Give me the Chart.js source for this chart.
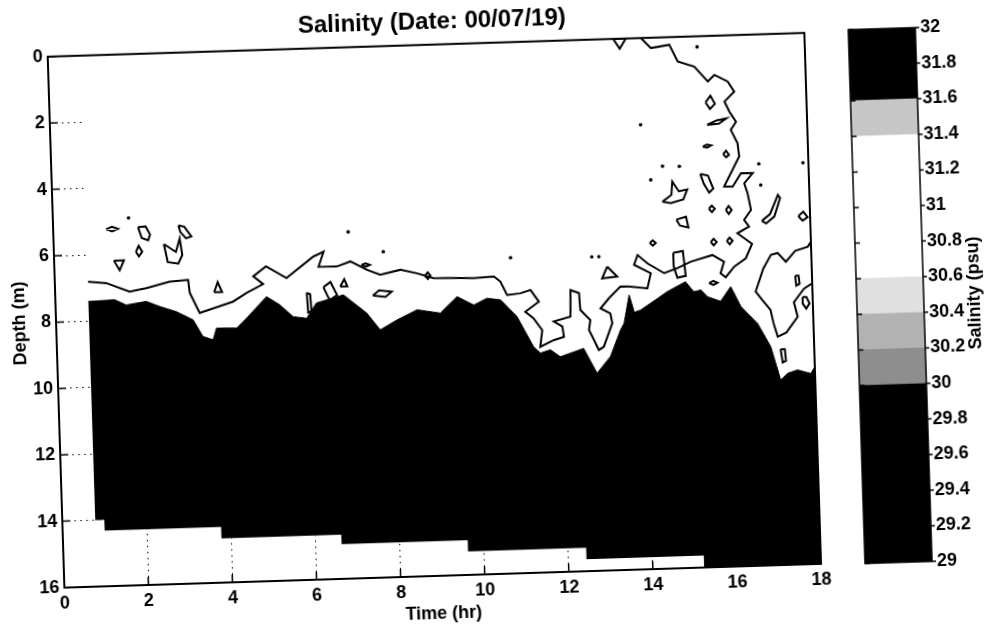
<!DOCTYPE html>
<html>
<head>
<meta charset="utf-8">
<script src="https://cdn.jsdelivr.net/npm/chart.js@4.4.1/dist/chart.umd.min.js"></script>
<style>
  html, body { margin: 0; padding: 0; background: #fff; overflow: hidden; }
  #page { position: relative; width: 988px; height: 627px; transform: rotate(-1.8deg); transform-origin: 494px 313.5px; }
  #salinityChart { position: absolute; left: 0; top: 0; }
  #colorBar { position: absolute; left: 820px; top: 0; }
</style>
</head>
<body>
<div id="page">
  <canvas id="salinityChart" width="882" height="627"></canvas>
  <canvas id="colorBar" width="168" height="627"></canvas>
</div>
<script>
// axis ticks
const timeTicks = [0, 2, 4, 6, 8, 10, 12, 14, 16, 18];
const depthTicks = [0, 2, 4, 6, 8, 10, 12, 14, 16];
const salinityTicks = [29, 29.2, 29.4, 29.6, 29.8, 30, 30.2, 30.4, 30.6, 30.8, 31, 31.2, 31.4, 31.6, 31.8, 32];

// bottom of the data (stepped, hr / m)
const stepStart = [0.78, 1.0, 3.77, 6.62, 9.62, 12.43, 15.22];
const stepDepth = [14.0, 14.32, 14.67, 14.95, 15.29, 15.64, 15.97];
const dataEnd = 18;

// top of the < 30 psu (black) water
const blackTime = [0.78, 1.41, 1.68, 2.16, 2.48, 2.87, 3.26, 3.48, 3.72, 3.81, 4.29, 4.53, 5.02, 5.33, 5.64, 5.96,
  6.2, 6.85, 7.39, 7.70, 8.10, 8.59, 9.14, 9.55, 9.94, 10.26, 10.58, 10.96, 11.33, 11.49, 11.73, 11.96,
  12.52, 12.82, 13.15, 13.41, 13.5, 13.64, 13.75, 13.90, 14.15, 14.55, 14.99, 15.18, 15.35, 15.5, 15.81, 16.06,
  16.29, 16.67, 16.97, 17.18, 17.35, 17.59, 17.9, 18];
const blackDepth = [7.41, 7.38, 7.55, 7.46, 7.63, 7.80, 8.06, 8.57, 8.68, 8.33, 8.35, 8.06, 7.43, 7.69, 8.06, 8.12,
  7.67, 7.45, 8.02, 8.54, 8.26, 7.97, 8.09, 7.61, 7.88, 7.69, 7.75, 8.27, 9.19, 9.39, 9.30, 9.52,
  9.29, 10.05, 9.56, 8.77, 8.57, 7.72, 8.25, 8.19, 7.99, 7.66, 7.38, 7.69, 7.64, 7.85, 8.00, 7.57,
  8.18, 8.70, 9.42, 10.43, 10.23, 10.14, 10.26, 10.06];

// contour lines [time, depth]
const mainContour = [[0.79,6.81],[1.22,6.87],[1.77,7.15],[2.17,7.06],[2.73,6.89],[3.17,6.85],[3.20,7.24],[3.42,7.86],
  [3.73,7.74],[4.22,7.55],[4.55,7.30],[4.95,7.05],[4.72,6.81],[5.03,6.52],[5.51,6.89],[6.16,6.27],[6.41,6.13],
  [6.28,6.58],[6.71,6.59],[7.04,6.45],[7.43,6.72],[7.74,6.88],[8.22,6.75],[8.61,6.87],[9.00,7.03],[9.48,7.05],
  [9.96,7.07],[10.44,7.04],[10.59,7.20],[10.74,7.61],[11.06,7.57],[11.30,7.48],[11.49,7.84],[11.16,8.13],
  [11.35,8.33],[11.55,8.70],[11.49,9.20],[11.82,9.01],[12.06,8.92],[12.03,8.61],[11.83,8.45],[12.23,8.32],
  [12.25,7.52],[12.45,7.62],[12.47,8.13],[12.70,8.44],[12.66,8.74],[12.88,9.35],[13.00,9.26],[13.22,8.56],
  [13.18,8.26],[12.95,8.10],[13.16,7.80],[13.44,7.46],[13.64,7.47],[14.08,7.54],[14.17,7.09],[13.78,6.82],
  [13.87,6.53],[14.10,6.79],[14.49,7.10],[14.81,6.96],[15.13,6.78],[15.65,6.60],[15.92,6.81],[15.83,7.16],
  [15.95,7.28],[16.16,6.97],[16.44,6.73],[16.60,6.30],[16.26,5.97],[16.54,5.78],[16.43,5.57],[16.60,5.28],
  [16.53,4.77],[16.46,4.47],[16.67,4.17],[16.39,4.16],[16.18,4.56],[15.98,4.55],[16.15,4.15],[16.36,3.66],
  [16.33,3.26],[16.18,2.85],[16.31,2.61],[16.16,2.30],[16.05,1.99],[16.29,1.70],[16.14,1.39],[15.83,1.18],
  [15.67,1.37],[15.36,0.91],[14.97,0.74],[14.78,0.23],[14.34,0.31],[14.11,0]];
const rightContour = [[18,6.30],[17.92,6.44],[17.62,6.55],[17.39,6.87],[17.20,6.60],[17.04,6.65],[16.85,7.05],
  [16.65,7.74],[16.80,8.00],[16.99,8.31],[17.05,8.70],[17.14,9.12],[17.35,9.00],[17.63,8.54],[17.55,8.10],
  [17.80,7.70],[18,7.55]];
const islands = [
  [[1.26,5.25],[1.40,5.18],[1.54,5.25],[1.40,5.32]],
  [[2.02,5.22],[2.20,5.20],[2.30,5.45],[2.25,5.62],[2.10,5.55]],
  [[2.98,5.20],[3.12,5.25],[3.28,5.55],[3.15,5.60],[3.02,5.40]],
  [[1.95,5.96],[2.02,5.78],[2.10,5.96],[2.02,6.10]],
  [[2.62,5.75],[2.70,6.30],[2.95,6.35],[3.05,6.10],[3.00,5.60],[2.90,6.00]],
  [[1.42,6.20],[1.66,6.20],[1.55,6.50]],
  [[3.78,7.25],[3.87,6.95],[3.97,7.25]],
  [[6.78,7.20],[6.88,6.98],[6.95,7.20]],
  [[7.30,6.57],[7.40,6.52],[7.50,6.57],[7.40,6.62]],
  [[7.55,7.50],[7.70,7.35],[8.00,7.40],[7.85,7.55]],
  [[6.38,7.20],[6.55,7.05],[6.70,7.45],[6.52,7.60]],
  [[5.98,7.35],[6.06,7.40],[6.08,7.90],[6.00,7.95]],
  [[8.80,6.95],[8.87,6.85],[8.93,6.95],[8.87,7.05]],
  [[13.14,6.85],[13.01,7.20],[13.37,7.16]],
  [[13.45,0.00],[13.60,0.30],[13.75,0.00]],
  [[15.60,2.00],[15.72,1.80],[15.82,2.05],[15.70,2.20]],
  [[15.62,2.68],[15.85,2.55],[16.08,2.50],[15.90,2.65]],
  [[15.50,3.33],[15.60,3.27],[15.70,3.30],[15.60,3.36]],
  [[15.98,3.57],[16.05,3.47],[16.12,3.60],[16.05,3.67]],
  [[15.42,4.15],[15.60,4.20],[15.72,4.60],[15.62,4.72],[15.50,4.45]],
  [[14.50,4.95],[14.72,4.75],[14.75,4.35],[14.90,4.65],[15.10,4.60],[15.00,4.90],[14.70,5.00]],
  [[15.60,5.21],[15.67,5.11],[15.74,5.21],[15.67,5.31]],
  [[16.00,5.26],[16.07,5.14],[16.14,5.26],[16.07,5.38]],
  [[14.82,5.50],[15.05,5.42],[15.10,5.75],[14.90,5.68]],
  [[15.62,6.21],[15.69,6.11],[15.76,6.21],[15.69,6.31]],
  [[16.00,6.19],[16.07,6.09],[16.14,6.19],[16.07,6.29]],
  [[14.17,6.18],[14.24,6.10],[14.31,6.18],[14.24,6.26]],
  [[17.72,5.51],[17.84,5.38],[17.94,5.55],[17.82,5.65]],
  [[16.85,5.62],[17.05,5.42],[17.25,4.85],[17.30,4.95],[17.15,5.50],[16.95,5.70]],
  [[14.72,6.50],[14.95,6.45],[15.00,7.20],[14.80,7.25],[14.72,6.90]],
  [[15.55,7.44],[15.65,7.38],[15.75,7.44],[15.65,7.50]],
  [[17.60,7.30],[17.68,7.30],[17.70,7.55],[17.62,7.60]],
  [[17.76,7.95],[17.85,7.95],[17.92,8.15],[17.84,8.30],[17.76,8.15]],
  [[17.20,9.50],[17.30,9.50],[17.32,9.85],[17.24,9.90]]
];
const specks = [[14.04,2.61],[15.44,0.32],[17.87,3.91],[16.85,4.54],[16.82,3.90],[14.24,4.28],[14.93,3.90],
  [14.53,3.88],[7.01,5.56],[7.83,6.19],[1.80,4.93],[10.85,6.49],[12.78,6.54],[12.95,6.54]];

// colour bar
const cbLow = [29, 30, 30.2, 30.4, 30.6, 31.4, 31.6];
const cbHigh = [30, 30.2, 30.4, 30.6, 31.4, 31.6, 32];
const cbColors = ['#000', '#8e8e8e', '#b2b2b2', '#e0e0e0', '#fff', '#c6c6c6', '#000'];

const font = '"Liberation Sans", Arial, sans-serif';
Chart.defaults.font.family = font;
Chart.defaults.color = '#000';

const toPoints = pairs => pairs.map(p => ({ x: p[0], y: p[1] }));
const closeRing = pairs => toPoints(pairs.concat([pairs[0]]));

const bottomEdge = [];
stepStart.forEach((t, i) => {
  const next = i < stepStart.length - 1 ? stepStart[i + 1] : dataEnd;
  bottomEdge.push({ x: t, y: stepDepth[i] }, { x: next, y: stepDepth[i] });
});
const blackTop = blackTime.map((t, i) => ({ x: t, y: blackDepth[i] }));

const contourLine = data => ({
  data, borderColor: '#000', borderWidth: 2, pointRadius: 0, fill: false, order: 2
});

// box round the axes and short inside ticks
const axesBox = {
  id: 'axesBox',
  afterDatasetsDraw(chart) {
    const { ctx, chartArea: a, scales: { x, y } } = chart;
    ctx.save();
    ctx.strokeStyle = '#000';
    ctx.lineWidth = 1.5;
    ctx.beginPath();
    y.ticks.forEach(t => {
      const py = y.getPixelForValue(t.value);
      ctx.moveTo(a.left, py); ctx.lineTo(a.left + 8, py);
    });
    x.ticks.forEach(t => {
      const px = x.getPixelForValue(t.value);
      ctx.moveTo(px, a.bottom); ctx.lineTo(px, a.bottom - 8);
    });
    ctx.stroke();
    ctx.lineWidth = 2;
    ctx.strokeRect(a.left, a.top, a.width, a.height);
    ctx.restore();
  }
};

const tickFont = { size: 18, weight: 'bold' };

new Chart(document.getElementById('salinityChart'), {
  type: 'line',
  data: {
    datasets: [
      { data: bottomEdge, backgroundColor: '#fff', borderColor: 'rgba(0,0,0,0)', borderWidth: 0, pointRadius: 0, fill: { value: 0 }, order: 5 },
      { data: blackTop, backgroundColor: '#000', borderColor: '#000', borderWidth: 1, pointRadius: 0, fill: '-1', order: 4 },
      contourLine(toPoints(mainContour)),
      contourLine(toPoints(rightContour)),
      ...islands.map(r => contourLine(closeRing(r))),
      { data: toPoints(specks), showLine: false, pointRadius: 1.8, pointBackgroundColor: '#000', pointBorderWidth: 0, order: 1 }
    ]
  },
  options: {
    responsive: false,
    animation: false,
    events: [],
    plugins: {
      legend: { display: false },
      tooltip: { enabled: false },
      title: {
        display: true,
        text: 'Salinity (Date: 00/07/19)',
        color: '#000',
        font: { size: 24, weight: 'bold' },
        padding: { top: 6, bottom: 8 }
      }
    },
    scales: {
      x: {
        type: 'linear', min: 0, max: 18,
        afterBuildTicks: s => { s.ticks = timeTicks.map(v => ({ value: v })); },
        afterFit: s => { s.height = 53; },
        ticks: { font: tickFont, color: '#000', padding: 5, maxRotation: 0 },
        grid: { color: '#000', lineWidth: 1, drawTicks: false },
        border: { display: false, dash: [1.5, 4.5] },
        title: { display: true, text: 'Time (hr)', color: '#000', font: { size: 18, weight: 'bold' }, padding: { top: 0, bottom: 4 } }
      },
      y: {
        type: 'linear', min: 0, max: 16, reverse: true,
        afterBuildTicks: s => { s.ticks = depthTicks.map(v => ({ value: v })); },
        afterFit: s => { s.width = 56; },
        ticks: { font: tickFont, color: '#000', padding: 5 },
        grid: { color: '#000', lineWidth: 1, drawTicks: false },
        border: { display: false, dash: [1.5, 4.5] },
        title: { display: true, text: 'Depth (m)', color: '#000', font: { size: 18, weight: 'bold' }, padding: { top: 9, bottom: 0 } }
      },
      // empty right-hand strip, keeps the title centred over the whole figure
      yRight: {
        type: 'linear', position: 'right',
        afterFit: s => { s.width = 69; },
        ticks: { display: false },
        grid: { display: false, drawTicks: false },
        border: { display: false }
      }
    }
  },
  plugins: [axesBox]
});

// colour bar frame, ticks and label
const barFrame = {
  id: 'barFrame',
  afterDraw(chart) {
    const { ctx, chartArea: a, scales: { y } } = chart;
    ctx.save();
    ctx.strokeStyle = '#000';
    ctx.lineWidth = 1.5;
    ctx.beginPath();
    y.ticks.forEach(t => {
      const py = y.getPixelForValue(t.value);
      ctx.moveTo(a.left, py); ctx.lineTo(a.left + 5, py);
      ctx.moveTo(a.right, py); ctx.lineTo(a.right + 4, py);
    });
    ctx.stroke();
    ctx.strokeRect(a.left, a.top, a.width, a.height);
    ctx.translate(a.right + 51, (a.top + a.bottom) / 2);
    ctx.rotate(-Math.PI / 2);
    ctx.fillStyle = '#000';
    ctx.font = 'bold 18px ' + font;
    ctx.textAlign = 'center';
    ctx.textBaseline = 'middle';
    ctx.fillText('Salinity (psu)', 0, 0);
    ctx.restore();
  }
};

new Chart(document.getElementById('colorBar'), {
  type: 'bar',
  data: {
    labels: [''],
    datasets: cbLow.map((lo, i) => ({
      data: [[lo, cbHigh[i]]],
      backgroundColor: cbColors[i],
      borderWidth: 0,
      barPercentage: 1,
      categoryPercentage: 1,
      grouped: false
    }))
  },
  options: {
    responsive: false,
    animation: false,
    events: [],
    layout: { padding: { left: 37, top: 41, bottom: 52, right: 0 } },
    plugins: { legend: { display: false }, tooltip: { enabled: false } },
    scales: {
      x: { display: false },
      y: {
        position: 'right', min: 29, max: 32,
        afterBuildTicks: s => { s.ticks = salinityTicks.map(v => ({ value: v })); },
        afterFit: s => { s.width = 64; },
        grid: { display: false, drawTicks: false },
        border: { display: false },
        ticks: { padding: 5, color: '#000', font: tickFont, callback: v => String(Math.round(v * 10) / 10) }
      }
    }
  },
  plugins: [barFrame]
});
</script>
</body>
</html>
